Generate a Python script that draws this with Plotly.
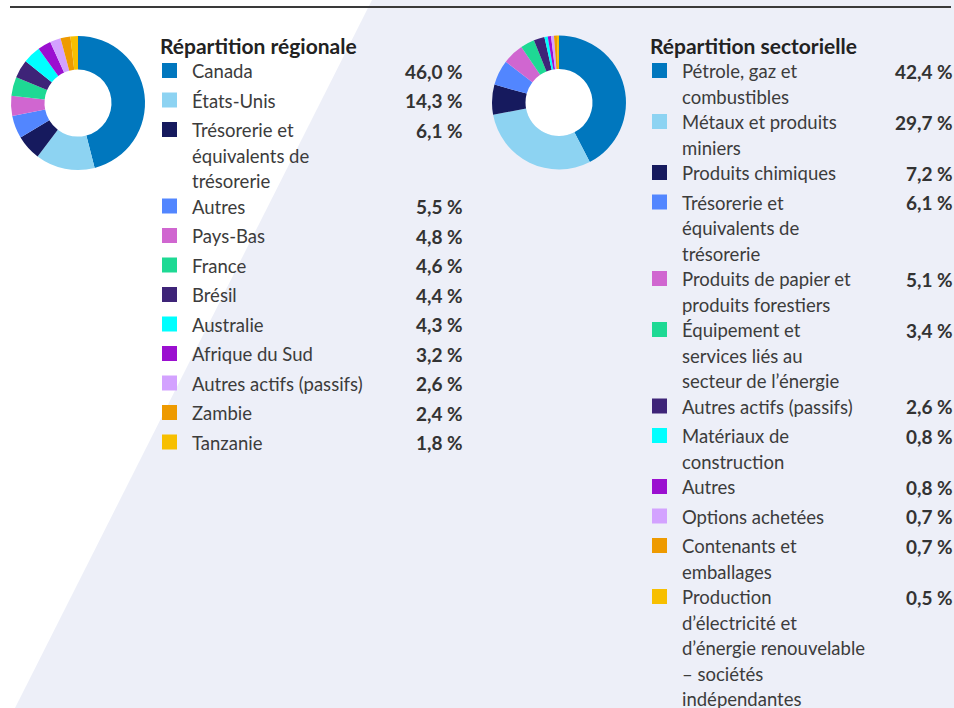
import plotly.graph_objects as go

# ---- data -------------------------------------------------------------
region_title = "Répartition régionale"
region_labels = [
    "Canada", "États-Unis", "Trésorerie et<br>équivalents de<br>trésorerie", "Autres",
    "Pays-Bas", "France", "Brésil", "Australie", "Afrique du Sud",
    "Autres actifs (passifs)", "Zambie", "Tanzanie",
]
region_values = [46.0, 14.3, 6.1, 5.5, 4.8, 4.6, 4.4, 4.3, 3.2, 2.6, 2.4, 1.8]

sector_title = "Répartition sectorielle"
sector_labels = [
    "Pétrole, gaz et<br>combustibles", "Métaux et produits<br>miniers", "Produits chimiques",
    "Trésorerie et<br>équivalents de<br>trésorerie", "Produits de papier et<br>produits forestiers",
    "Équipement et<br>services liés au<br>secteur de l’énergie", "Autres actifs (passifs)",
    "Matériaux de<br>construction", "Autres", "Options achetées", "Contenants et<br>emballages",
    "Production<br>d’électricité et<br>d’énergie renouvelable<br>– sociétés<br>indépendantes",
]
sector_values = [42.4, 29.7, 7.2, 6.1, 5.1, 3.4, 2.6, 0.8, 0.8, 0.7, 0.7, 0.5]

palette = [
    "#0077BE", "#8DD3F2", "#161A5E", "#5286FF", "#D066D0", "#1ED994",
    "#3E2478", "#00FFFF", "#9B0FD0", "#D3A2FF", "#EE9A00", "#F7BF00",
]

# ---- layout constants (pixels) ----------------------------------------
W, H = 954, 708
FONT = "Lato"
LINE_H = 25.5
MIN_ROW = 29.5


def fmt(v):
    return f"{v:.1f}".replace(".", ",") + " %"


fig = go.Figure()

shapes = [
    # lavender diagonal band
    dict(type="path", path=f"M 372,0 L {W},0 L {W},{H} L 15,{H} Z",
         fillcolor="#EDEFF8", line=dict(width=0), layer="below",
         xref="x", yref="y"),
    # top rule
    dict(type="line", x0=10, x1=951, y0=7, y1=7, xref="x", yref="y",
         line=dict(color="#3A3A3A", width=2)),
]
annotations = []


def text(x, y, s, anchor, size, color):
    annotations.append(dict(x=x, y=y, text=s, showarrow=False, xanchor=anchor,
                            yanchor="middle", xref="x", yref="y",
                            borderpad=0, borderwidth=0,
                            font=dict(family=FONT, size=size, color=color)))


def add_donut(cx, cy, r, labels, values):
    fig.add_trace(go.Pie(
        labels=[l.replace("<br>", " ") for l in labels], values=values,
        hole=0.5, sort=False, direction="clockwise", rotation=0,
        marker=dict(colors=palette, line=dict(width=0)),
        textinfo="none", showlegend=False,
        domain=dict(x=[(cx - r) / W, (cx + r) / W],
                    y=[1 - (cy + r) / H, 1 - (cy - r) / H]),
    ))
    shapes.append(dict(type="circle", x0=cx - r * 0.5, x1=cx + r * 0.5,
                       y0=cy - r * 0.5, y1=cy + r * 0.5, xref="x", yref="y",
                       fillcolor="white", line=dict(width=0), layer="below"))


def add_legend(x0, x_right, title, labels, values):
    text(x0, 45, f"<b>{title}</b>", "left", 21, "#222222")
    y = 71
    for i, (lab, val) in enumerate(zip(labels, values)):
        shapes.append(dict(type="rect", x0=x0 + 2, x1=x0 + 17, y0=y - 8, y1=y + 7,
                           xref="x", yref="y", fillcolor=palette[i],
                           line=dict(width=0)))
        lines = lab.split("<br>")
        for k, ln in enumerate(lines):
            text(x0 + 32, y + k * LINE_H, ln, "left", 18.5, "#3C3C3C")
        text(x_right, y, f"<b>{fmt(val)}</b>", "right", 19, "#333333")
        y += max(len(lines) * LINE_H, MIN_ROW)


add_donut(78, 103, 67, region_labels, region_values)
add_donut(559, 102.5, 67, sector_labels, sector_values)
add_legend(160, 463, region_title, region_labels, region_values)
add_legend(650, 953, sector_title, sector_labels, sector_values)

fig.update_layout(
    width=W, height=H, margin=dict(l=0, r=0, t=0, b=0),
    paper_bgcolor="white", plot_bgcolor="rgba(0,0,0,0)",
    xaxis=dict(range=[0, W], visible=False, fixedrange=True, domain=[0, 1]),
    yaxis=dict(range=[H, 0], visible=False, fixedrange=True, domain=[0, 1]),
    shapes=shapes, annotations=annotations, showlegend=False,
)

fig.write_html("out.html")
